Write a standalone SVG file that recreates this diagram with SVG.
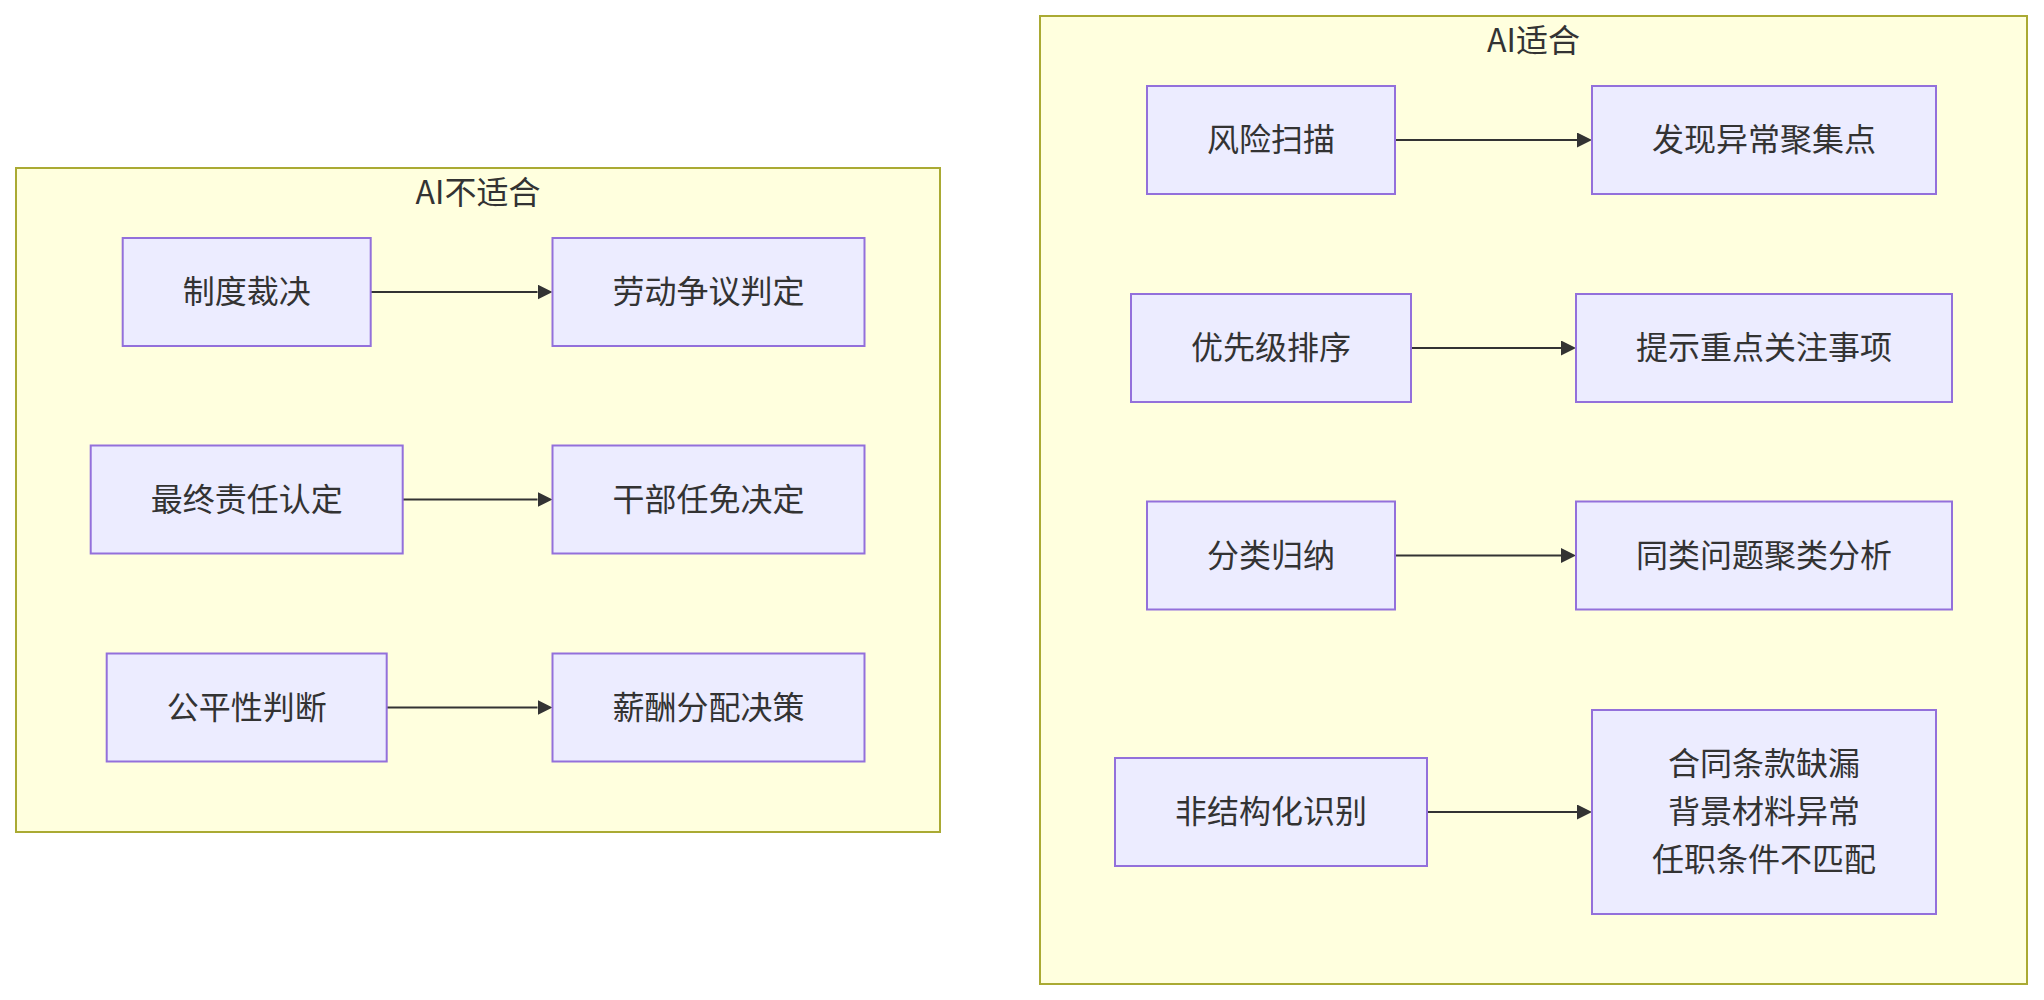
<svg xmlns="http://www.w3.org/2000/svg" width="2044" height="1000" viewBox="0 0 2044 1000">
<style>
.cluster{fill:#ffffde;stroke:#aaaa33;stroke-width:2}
.node rect{fill:#ECECFF;stroke:#9370DB;stroke-width:2}
text{font-family:"Noto Sans CJK SC","Liberation Sans",sans-serif;font-size:32px;fill:#333;text-anchor:middle}
.edge{stroke:#333;stroke-width:2;fill:none}
</style>
<defs>
<marker id="arrow" viewBox="0 0 10 10" refX="0" refY="5" markerUnits="userSpaceOnUse" markerWidth="15" markerHeight="15" orient="auto">
<path d="M0,0 L10,5 L0,10 z" fill="#333"/>
</marker>
</defs>
<rect width="2044" height="1000" fill="#ffffff"/>
<g id="cluster-not-suitable">
<rect class="cluster" x="16" y="168" width="924" height="664"/>
<text x="478" y="204">AI不适合</text>
</g>
<g id="cluster-suitable">
<rect class="cluster" x="1040" y="16" width="987" height="968"/>
<text x="1533.5" y="52">AI适合</text>
</g>
<g id="connectors">
<line class="edge" x1="370.7" y1="292" x2="537.5" y2="292" marker-end="url(#arrow)"/>
<line class="edge" x1="402.7" y1="499.5" x2="537.5" y2="499.5" marker-end="url(#arrow)"/>
<line class="edge" x1="386.7" y1="707.5" x2="537.5" y2="707.5" marker-end="url(#arrow)"/>
<line class="edge" x1="1395" y1="140" x2="1577" y2="140" marker-end="url(#arrow)"/>
<line class="edge" x1="1411" y1="348" x2="1561" y2="348" marker-end="url(#arrow)"/>
<line class="edge" x1="1395" y1="555.5" x2="1561" y2="555.5" marker-end="url(#arrow)"/>
<line class="edge" x1="1427" y1="812" x2="1577" y2="812" marker-end="url(#arrow)"/>
</g>
<g id="node-zhidu" class="node"><rect x="122.7" y="238" width="248" height="108"/><text x="246.7" y="303">制度裁决</text></g>
<g id="node-laodong" class="node"><rect x="552.5" y="238" width="312" height="108"/><text x="708.5" y="303">劳动争议判定</text></g>
<g id="node-zuizhong" class="node"><rect x="90.7" y="445.5" width="312" height="108"/><text x="246.7" y="510.5">最终责任认定</text></g>
<g id="node-ganbu" class="node"><rect x="552.5" y="445.5" width="312" height="108"/><text x="708.5" y="510.5">干部任免决定</text></g>
<g id="node-gongping" class="node"><rect x="106.7" y="653.5" width="280" height="108"/><text x="246.7" y="718.5">公平性判断</text></g>
<g id="node-xinchou" class="node"><rect x="552.5" y="653.5" width="312" height="108"/><text x="708.5" y="718.5">薪酬分配决策</text></g>
<g id="node-fengxian" class="node"><rect x="1147" y="86" width="248" height="108"/><text x="1271" y="151">风险扫描</text></g>
<g id="node-faxian" class="node"><rect x="1592" y="86" width="344" height="108"/><text x="1764" y="151">发现异常聚集点</text></g>
<g id="node-youxian" class="node"><rect x="1131" y="294" width="280" height="108"/><text x="1271" y="359">优先级排序</text></g>
<g id="node-tishi" class="node"><rect x="1576" y="294" width="376" height="108"/><text x="1764" y="359">提示重点关注事项</text></g>
<g id="node-fenlei" class="node"><rect x="1147" y="501.5" width="248" height="108"/><text x="1271" y="566.5">分类归纳</text></g>
<g id="node-tonglei" class="node"><rect x="1576" y="501.5" width="376" height="108"/><text x="1764" y="566.5">同类问题聚类分析</text></g>
<g id="node-feijiegou" class="node"><rect x="1115" y="758" width="312" height="108"/><text x="1271" y="823">非结构化识别</text></g>
<g id="node-hetong" class="node"><rect x="1592" y="710" width="344" height="204"/><text x="1764" y="775">合同条款缺漏</text><text x="1764" y="823">背景材料异常</text><text x="1764" y="871">任职条件不匹配</text></g>
</svg>
